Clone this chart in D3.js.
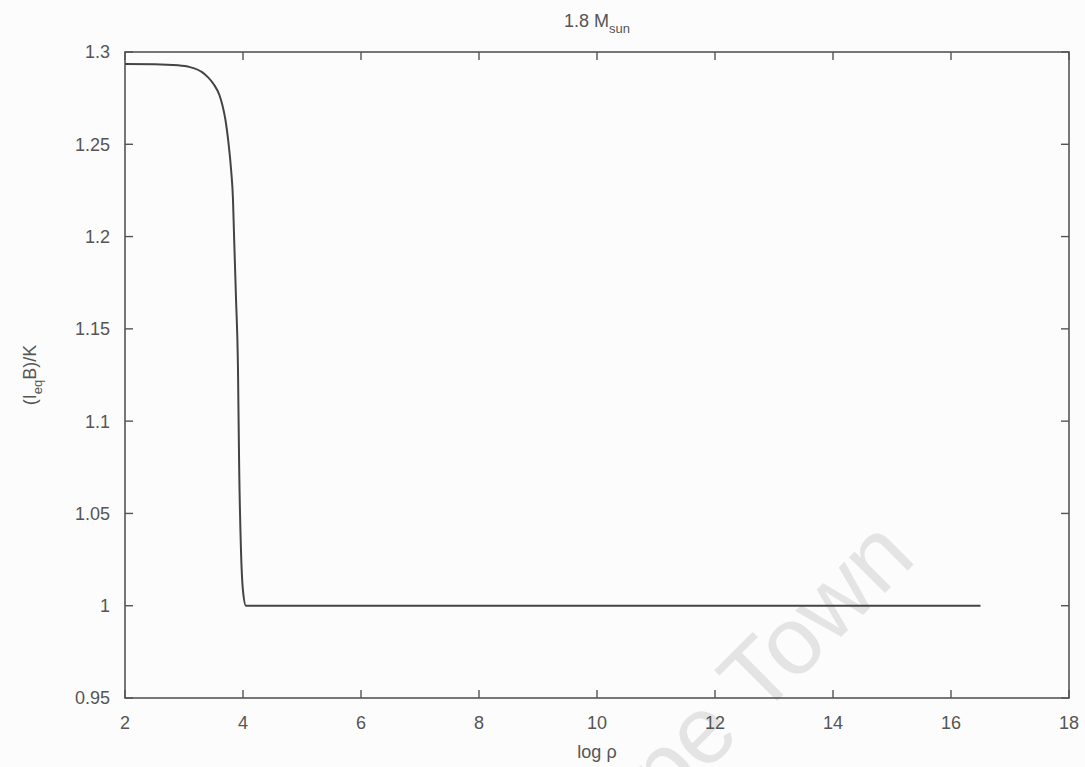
<!DOCTYPE html>
<html>
<head>
<meta charset="utf-8">
<script src="https://cdn.jsdelivr.net/npm/d3@7"></script>
<style>
  html, body { margin: 0; padding: 0; background: #fcfcfc; }
  text { font-family: "Liberation Sans", "DejaVu Sans", sans-serif; fill: #555; }
</style>
</head>
<body>
<div id="chart"></div>
<script>
// values
var logRho = [2.0, 2.5, 2.9, 3.1, 3.3, 3.4, 3.5, 3.6, 3.65, 3.7, 3.75, 3.8, 3.83, 3.85, 3.88, 3.915, 3.935, 3.965, 4.0, 4.05, 16.5];
var ratio  = [1.2935, 1.2934, 1.2928, 1.2918, 1.2892, 1.2865, 1.2827, 1.2767, 1.2713, 1.2637, 1.2518, 1.2355, 1.2204, 1.1987, 1.168, 1.128, 1.075, 1.031, 1.008, 1.0, 1.0];
var xTicks = [2, 4, 6, 8, 10, 12, 14, 16, 18];
var yTicks = [0.95, 1, 1.05, 1.1, 1.15, 1.2, 1.25, 1.3];

var width = 1085, height = 767;
var margin = {top: 52, right: 16, bottom: 68, left: 125};

var svg = d3.select("#chart").append("svg")
	.attr("width", width)
	.attr("height", height);

var x = d3.scaleLinear().domain([2, 18]).range([margin.left, width - margin.right]);
var y = d3.scaleLinear().domain([0.95, 1.3]).range([height - margin.bottom - 1, margin.top]);

// scan watermark
svg.append("text")
	.attr("transform", "translate(918,560) rotate(-45)")
	.attr("text-anchor", "end")
	.attr("font-size", "96px")
	.style("fill", "#e4e4e4")
	.text("Cape Town");

var tickLen = 8;
var axisColor = "#555";

// gnuplot style mirrored ticks
var ticks = svg.append("g").attr("stroke", axisColor).attr("stroke-width", 1.4);
xTicks.forEach(function(t) {
	ticks.append("line").attr("x1", x(t)).attr("x2", x(t))
		.attr("y1", y(0.95)).attr("y2", y(0.95) - tickLen);
	ticks.append("line").attr("x1", x(t)).attr("x2", x(t))
		.attr("y1", y(1.3)).attr("y2", y(1.3) + tickLen);
});
yTicks.forEach(function(t) {
	ticks.append("line").attr("x1", x(2)).attr("x2", x(2) + tickLen)
		.attr("y1", y(t)).attr("y2", y(t));
	ticks.append("line").attr("x1", x(18)).attr("x2", x(18) - tickLen)
		.attr("y1", y(t)).attr("y2", y(t));
});

// border
svg.append("rect")
	.attr("x", x(2)).attr("y", y(1.3))
	.attr("width", x(18) - x(2)).attr("height", y(0.95) - y(1.3))
	.attr("fill", "none")
	.attr("stroke", axisColor)
	.attr("stroke-width", 1.6);

// tick labels
svg.append("g").selectAll("text")
	.data(xTicks).enter().append("text")
	.attr("x", function(d) { return x(d); })
	.attr("y", y(0.95) + 31)
	.attr("text-anchor", "middle")
	.attr("font-size", "18px")
	.text(function(d) { return d; });

svg.append("g").selectAll("text")
	.data(yTicks).enter().append("text")
	.attr("x", x(2) - 15)
	.attr("y", function(d) { return y(d); })
	.attr("dy", "0.36em")
	.attr("text-anchor", "end")
	.attr("font-size", "18px")
	.text(function(d) { return d; });

// curve
var line = d3.line()
	.x(function(d, i) { return x(logRho[i]); })
	.y(function(d, i) { return y(ratio[i]); })
	.curve(d3.curveMonotoneX);

svg.append("path")
	.datum(logRho)
	.attr("d", line)
	.attr("fill", "none")
	.attr("stroke", "#444")
	.attr("stroke-width", 2);

// title
var title = svg.append("text")
	.attr("x", (x(2) + x(18)) / 2)
	.attr("y", 27)
	.attr("text-anchor", "middle")
	.attr("font-size", "18px");
title.append("tspan").text("1.8 M");
title.append("tspan").attr("dy", 6).attr("font-size", "13px").text("sun");

// axis labels
svg.append("text")
	.attr("x", (x(2) + x(18)) / 2)
	.attr("y", 758)
	.attr("text-anchor", "middle")
	.attr("font-size", "18px")
	.text("log ρ");

var ylab = svg.append("text")
	.attr("transform", "translate(36," + ((y(0.95) + y(1.3)) / 2) + ") rotate(-90)")
	.attr("text-anchor", "middle")
	.attr("font-size", "18px");
ylab.append("tspan").text("(I");
ylab.append("tspan").attr("dy", 6).attr("font-size", "13px").text("eq");
ylab.append("tspan").attr("dy", -6).text("B)/K");
</script>
</body>
</html>
